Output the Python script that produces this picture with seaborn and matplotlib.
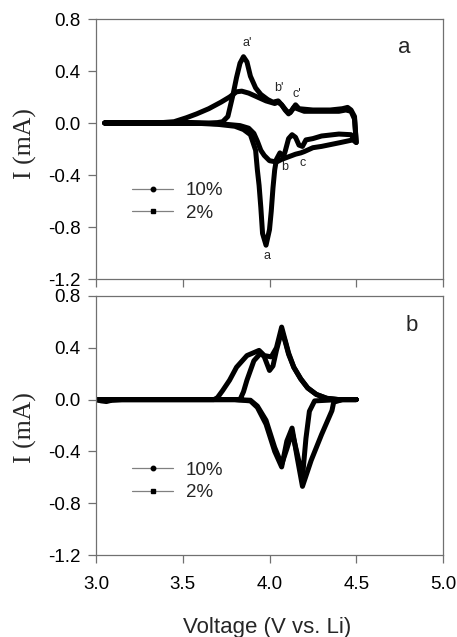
import numpy as np
import pandas as pd
import matplotlib
matplotlib.use("Agg")
import matplotlib.pyplot as plt
from matplotlib.lines import Line2D
import seaborn as sns

sns.set_theme(style="white")
plt.rcParams['font.family'] = ['Liberation Sans', 'DejaVu Sans']
plt.rcParams['axes.unicode_minus'] = False

# ---------------- data ----------------
series_names = ["10%", "2%"]

# Panel a, 10 % : anodic sweep 3.05 -> 4.5, then cathodic back
a10_v = [3.05, 3.50, 3.65, 3.70, 3.73, 3.76, 3.79, 3.81, 3.83, 3.85, 3.87, 3.89, 3.92,
         3.95, 3.99, 4.02, 4.05, 4.07, 4.09, 4.11, 4.13, 4.15, 4.17, 4.25, 4.35, 4.42,
         4.45, 4.47, 4.49, 4.50,
         4.47, 4.40, 4.30, 4.25, 4.21, 4.19, 4.17, 4.15, 4.13, 4.11, 4.09, 4.08, 4.06,
         4.04, 4.03, 4.02, 4.01, 4.00, 3.98, 3.96, 3.95, 3.94, 3.93, 3.92, 3.89, 3.85,
         3.80, 3.70, 3.55, 3.05]
a10_i = [0.0, 0.0, 0.0, 0.003, 0.01, 0.05, 0.22, 0.35, 0.46, 0.51, 0.47, 0.36, 0.27,
         0.22, 0.18, 0.16, 0.17, 0.14, 0.10, 0.07, 0.10, 0.14, 0.11, 0.10, 0.10, 0.11,
         0.12, 0.10, 0.05, -0.15,
         -0.09, -0.085, -0.10, -0.12, -0.13, -0.18, -0.17, -0.11, -0.09, -0.12, -0.22,
         -0.26, -0.23, -0.28, -0.36, -0.50, -0.68, -0.82, -0.94, -0.85, -0.65, -0.48,
         -0.36, -0.21, -0.09, -0.05, -0.025, -0.01, 0.0, 0.0]

# Panel a, 2 %
a2_v = [3.05, 3.35, 3.45, 3.52, 3.58, 3.65, 3.72, 3.77, 3.81, 3.84, 3.88, 3.93, 3.98,
        4.03, 4.05, 4.07, 4.10, 4.12, 4.14, 4.16, 4.20, 4.30, 4.40, 4.44, 4.47, 4.49,
        4.50,
        4.48, 4.41, 4.30, 4.25, 4.20, 4.18, 4.15, 4.11, 4.07, 4.04, 4.00, 3.97, 3.95,
        3.93, 3.91, 3.88, 3.83, 3.75, 3.60, 3.05]
a2_i = [0.0, 0.0, 0.01, 0.04, 0.07, 0.11, 0.16, 0.20, 0.24, 0.245, 0.23, 0.20, 0.17,
        0.15, 0.16, 0.14, 0.09, 0.08, 0.12, 0.11, 0.09, 0.09, 0.09, 0.10, 0.09, 0.03,
        -0.15,
        -0.13, -0.15, -0.18, -0.19, -0.22, -0.23, -0.24, -0.26, -0.28, -0.30, -0.29,
        -0.25, -0.21, -0.14, -0.08, -0.04, -0.02, -0.01, 0.0, 0.0]

# Panel b, 10 %
b10_v = [3.00, 3.50, 3.80, 3.83, 3.85, 3.87, 3.91, 3.95, 3.97, 4.00, 4.02, 4.04, 4.07,
         4.09, 4.11, 4.14, 4.18, 4.22, 4.27, 4.33, 4.40, 4.50,
         4.40, 4.26, 4.23, 4.21, 4.19, 4.16, 4.13, 4.10, 4.07, 4.03, 3.98, 3.93, 3.89,
         3.80, 3.50, 3.00]
b10_i = [0.0, 0.0, 0.0, 0.0, 0.06, 0.15, 0.30, 0.36, 0.33, 0.225, 0.26, 0.38, 0.53,
         0.45, 0.35, 0.25, 0.16, 0.09, 0.04, 0.01, 0.0, 0.0,
         0.0, -0.01, -0.09, -0.30, -0.60, -0.42, -0.25, -0.38, -0.50, -0.37, -0.16,
         -0.05, -0.005, 0.0, 0.0, 0.0]

# Panel b, 2 %
b2_v = [3.00, 3.50, 3.68, 3.70, 3.73, 3.77, 3.81, 3.87, 3.94, 3.97, 4.01, 4.04, 4.07,
        4.09, 4.11, 4.14, 4.18, 4.22, 4.27, 4.33, 4.40, 4.50,
        4.42, 4.37, 4.36, 4.30, 4.24, 4.19, 4.16, 4.13, 4.10, 4.07, 4.03, 3.98, 3.93,
        3.89, 3.80, 3.50, 3.15, 3.09, 3.06, 3.03, 3.00]
b2_i = [0.0, 0.0, 0.0, 0.015, 0.07, 0.15, 0.25, 0.34, 0.38, 0.34, 0.33, 0.40, 0.56,
        0.46, 0.36, 0.25, 0.16, 0.09, 0.04, 0.01, 0.0, 0.0,
        0.0, -0.02, -0.085, -0.27, -0.47, -0.67, -0.45, -0.22, -0.32, -0.52, -0.40,
        -0.19, -0.06, -0.01, 0.0, 0.0, 0.0, -0.005, -0.015, -0.01, 0.0]

x_ticks = [3.0, 3.5, 4.0, 4.5, 5.0]
y_ticks = [-1.2, -0.8, -0.4, 0.0, 0.4, 0.8]
tick_fmt = "{:.1f}"


def make_df(v10, i10, v2, i2):
    d1 = pd.DataFrame({"V": v10, "I": i10, "series": "10%"})
    d2 = pd.DataFrame({"V": v2, "I": i2, "series": "2%"})
    return pd.concat([d1, d2], ignore_index=True)


df_a = make_df(a10_v, a10_i, a2_v, a2_i)
df_b = make_df(b10_v, b10_i, b2_v, b2_i)

W, H = 457, 637
fig = plt.figure(figsize=(W / 100, H / 100), dpi=100)
fig.patch.set_facecolor("white")

def px_axes(l, t, r, b):
    return fig.add_axes([l / W, 1 - b / H, (r - l) / W, (b - t) / H])

ax_a = px_axes(96, 19, 443, 279)
ax_b = px_axes(96, 296, 443, 555)

spine_col = "#707070"
for ax, df in ((ax_a, df_a), (ax_b, df_b)):
    sns.lineplot(data=df, x="V", y="I", hue="series", palette=["black", "black"],
                 sort=False, estimator=None, legend=False, ax=ax, lw=3.6,
                 solid_joinstyle="round", solid_capstyle="round")
    ax.set_xlim(3.0, 5.0)
    ax.set_ylim(-1.2, 0.8)
    ax.set_xticks(x_ticks)
    ax.set_yticks(y_ticks)
    ax.set_yticklabels([tick_fmt.format(t) for t in y_ticks])
    ax.set_xlabel("")
    ax.set_ylabel("")
    ax.set_facecolor("white")
    for s in ax.spines.values():
        s.set_color(spine_col)
        s.set_linewidth(0.9)
        s.set_visible(True)
    ax.tick_params(axis="both", direction="out", length=6, width=0.9,
                   color=spine_col, labelsize=13.5, labelcolor="black",
                   left=True, bottom=True)
    ax.tick_params(axis="y", pad=5)
    ax.tick_params(axis="x", pad=9)
    ax.grid(False)

    handles = [Line2D([], [], color="#808080", lw=0.9, marker="o", ms=3.2,
                      mfc="black", mec="black"),
               Line2D([], [], color="#808080", lw=0.9, marker="s", ms=3.2,
                      mfc="black", mec="black")]
    yc = 0.296 if ax is ax_a else 0.284
    ax.legend(handles, series_names, loc="center left", bbox_to_anchor=(0.104, yc),
              frameon=False, fontsize=13.5, handlelength=2.2, handletextpad=0.65,
              borderpad=0, borderaxespad=0, labelspacing=0.3)

ax_a.set_xticklabels([])
ax_b.set_xticklabels([tick_fmt.format(t) for t in x_ticks])

# peak annotations (panel a)
ann = [("a'", 3.87, 0.615), ("b'", 4.055, 0.27), ("c'", 4.16, 0.22),
       ("b", 4.09, -0.34), ("c", 4.19, -0.31), ("a", 3.985, -1.02)]
for txt, x, y in ann:
    ax_a.text(x, y, txt, fontsize=9, ha="center", va="center")

ax_a.text(4.775, 0.58, "a", fontsize=16, ha="center", va="center")
ax_b.text(4.82, 0.57, "b", fontsize=16, ha="center", va="center")

for yc in (144, 428):
    fig.text(25 / W, 1 - yc / H, "I (mA)", rotation=90, ha="center", va="center",
             fontsize=18.5, family=["Liberation Serif", "DejaVu Serif"])

fig.text(267 / W, 1 - 627 / H, "Voltage (V vs. Li)", ha="center", va="center",
         fontsize=16)

fig.savefig("out.png", dpi=100, facecolor="white")
